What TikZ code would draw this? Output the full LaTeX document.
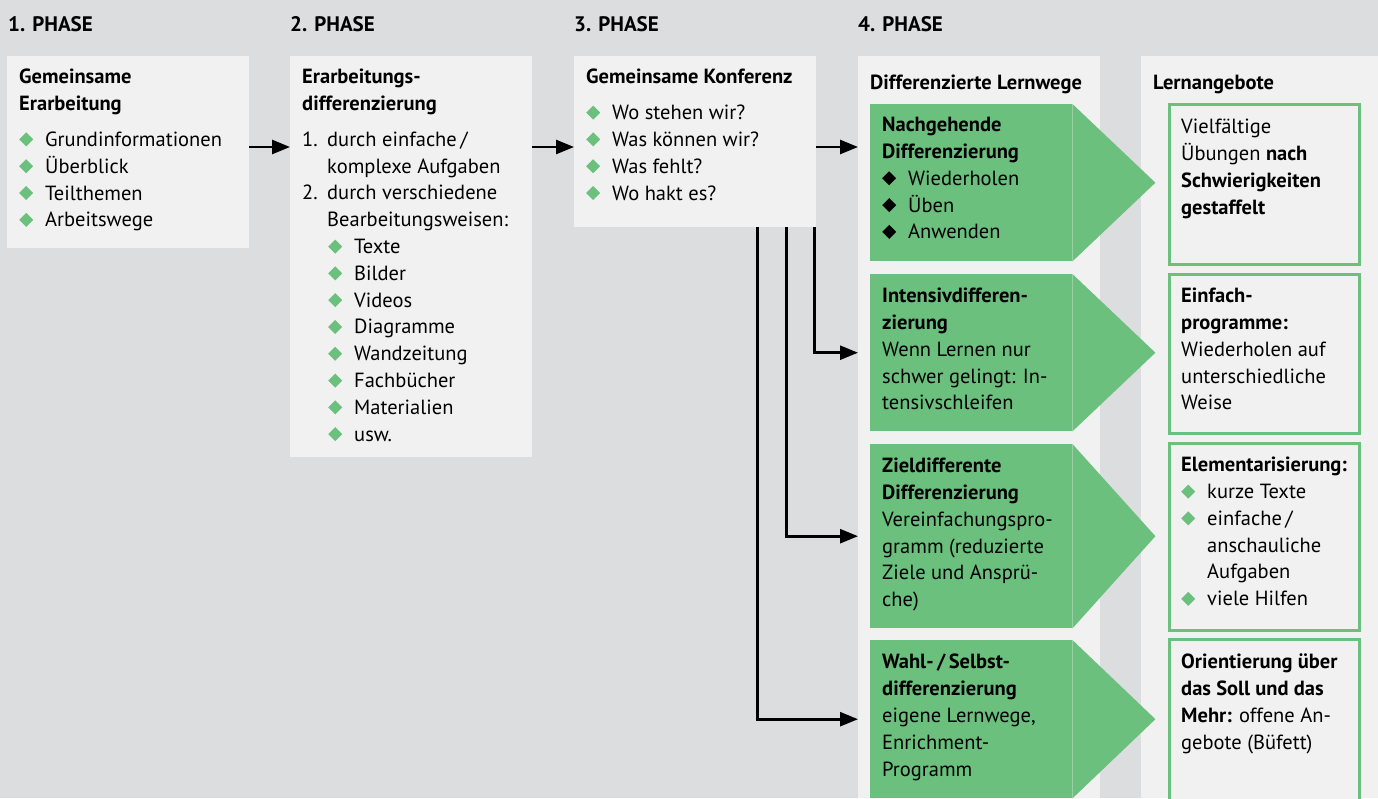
\documentclass[tikz,border=0pt]{standalone}
\usepackage{fontspec}
\setmainfont{PT Sans}
\usetikzlibrary{arrows.meta,positioning}

\definecolor{bggray}{RGB}{220,221,223}
\definecolor{boxgray}{RGB}{241,241,241}
\definecolor{lwgreen}{RGB}{106,192,124}

% bullets
\newcommand\gdia{\tikz[baseline=0pt,x=1pt,y=1pt]\fill[lwgreen] (0,7) -- (7,14) -- (14,7) -- (7,0) -- cycle;}
\newcommand\bdia{\tikz[baseline=0pt,x=1pt,y=1pt]\fill[black] (0,7) -- (7,14) -- (14,7) -- (7,0) -- cycle;}
\newcommand\gitem{\makebox[26pt][l]{\gdia}}
\newcommand\bitem{\makebox[26pt][l]{\bdia}}
\newcommand\numitem[1]{\makebox[25pt][l]{#1}}

\begin{document}
\begin{tikzpicture}[x=1pt,y=-1pt,
    phase/.style={anchor=base west,inner sep=0pt,font=\bfseries\fontsize{21}{26}\selectfont},
    panel/.style={fill=boxgray,inner sep=0pt,anchor=north west},
    lbody/.style={fill=lwgreen,inner sep=0pt,anchor=north west,minimum width=202pt},
    offer/.style={draw=lwgreen,line width=2.5pt,fill=boxgray,inner sep=0pt,anchor=north west,minimum width=190pt},
    txt/.style={anchor=north west,inner sep=0pt,align=left,font=\fontsize{20.5}{26.8}\selectfont,
                execute at begin node={\rule{0pt}{20pt}}},
    arr/.style={-{Triangle[length=18pt,width=14pt]},line width=2.6pt}]

  \useasboundingbox (0,0) rectangle (1378,798);
  \fill[bggray] (0,0) rectangle (1378,798);

  % phase titles
  \node[phase] (t1) at (8,31) {1. PHASE};
  \node[phase] (t2) at (290,31) {2. PHASE};
  \node[phase] (t3) at (574,31) {3. PHASE};
  \node[phase] (t4) at (858,31) {4. PHASE};

  % columns
  \node[panel,minimum width=242pt,minimum height=192pt] (ph1) at (7,56) {};
  \node[panel,minimum width=242pt,minimum height=401pt] (ph2) at (290,56) {};
  \node[panel,minimum width=242pt,minimum height=171pt] (ph3) at (574,56) {};
  \node[panel,minimum width=242pt,minimum height=742pt] (ph4) at (858,56) {};
  \node[panel,minimum width=237pt,minimum height=742pt] (ph5) at (1141,56) {};

  \node[txt] (x1) at ([shift={(12,13)}]ph1.north west)
    {\textbf{Gemeinsame}\\\textbf{Erarbeitung}\\[9pt]
     \gitem Grundinformationen\\\gitem Überblick\\\gitem Teilthemen\\\gitem Arbeitswege};
  \node[txt] (x2) at ([shift={(12,13)}]ph2.north west)
    {\textbf{Erarbeitungs-}\\\textbf{differenzierung}\\[9pt]
     \numitem{1.}durch einfache\,/\\\hspace*{25pt}komplexe Aufgaben\\
     \numitem{2.}durch verschiedene\\\hspace*{25pt}Bearbeitungsweisen:\\
     \hspace*{26pt}\gitem Texte\\\hspace*{26pt}\gitem Bilder\\\hspace*{26pt}\gitem Videos\\
     \hspace*{26pt}\gitem Diagramme\\\hspace*{26pt}\gitem Wandzeitung\\
     \hspace*{26pt}\gitem Fachbücher\\\hspace*{26pt}\gitem Materialien\\\hspace*{26pt}\gitem usw.};
  \node[txt] (x3) at ([shift={(12,13)}]ph3.north west)
    {\textbf{Gemeinsame Konferenz}\\[9pt]
     \gitem Wo stehen wir?\\\gitem Was können wir?\\\gitem Was fehlt?\\\gitem Wo hakt es?};
  \node[txt] (x4) at ([shift={(12,13)}]ph4.north west) {\textbf{Differenzierte Lernwege}};
  \node[txt] (x5) at ([shift={(12,13)}]ph5.north west) {\textbf{Lernangebote}};

  % learning paths
  \node[lbody,minimum height=157pt] (lw1) at (870,104) {};
  \node[lbody,minimum height=157pt] (lw2) at (870,274) {};
  \node[lbody,minimum height=184pt] (lw3) at (870,444) {};
  \node[lbody,minimum height=158pt] (lw4) at (870,640) {};
  \fill[lwgreen] (lw1.north east) -- ([xshift=83pt]lw1.east) -- (lw1.south east) -- cycle;
  \fill[lwgreen] (lw2.north east) -- ([xshift=83pt]lw2.east) -- (lw2.south east) -- cycle;
  \fill[lwgreen] (lw3.north east) -- ([xshift=83pt]lw3.east) -- (lw3.south east) -- cycle;
  \fill[lwgreen] (lw4.north east) -- ([xshift=83pt]lw4.east) -- (lw4.south east) -- cycle;

  \node[txt] (y1) at ([shift={(12,13)}]lw1.north west)
    {\textbf{Nachgehende}\\\textbf{Differenzierung}\\\bitem Wiederholen\\\bitem Üben\\\bitem Anwenden};
  \node[txt] (y2) at ([shift={(12,14)}]lw2.north west)
    {\textbf{Intensivdifferen-}\\\textbf{zierung}\\Wenn Lernen nur\\schwer gelingt: In-\\tensivschleifen};
  \node[txt] (y3) at ([shift={(12,14)}]lw3.north west)
    {\textbf{Zieldifferente}\\\textbf{Differenzierung}\\Vereinfachungspro-\\gramm (reduzierte\\Ziele und Ansprü-\\che)};
  \node[txt] (y4) at ([shift={(12,14)}]lw4.north west)
    {\textbf{Wahl-\,/\,Selbst-}\\\textbf{differenzierung}\\eigene Lernwege,\\Enrichment-\\Programm};

  % offers
  \node[offer,minimum height=160pt] (of1) at (1168,103) {};
  \node[offer,minimum height=159pt] (of2) at (1168,273) {};
  \node[offer,minimum height=187pt] (of3) at (1168,442) {};
  \node[offer,minimum height=164pt] (of4) at (1168,638) {};

  \node[txt] (z1) at ([shift={(13,16)}]of1.north west)
    {Vielfältige\\Übungen \textbf{nach}\\\textbf{Schwierigkeiten}\\\textbf{gestaffelt}};
  \node[txt] (z2) at ([shift={(13,15)}]of2.north west)
    {\textbf{Einfach-}\\\textbf{programme:}\\Wiederholen auf\\unterschiedliche\\Weise};
  \node[txt] (z3) at ([shift={(13,15)}]of3.north west)
    {\textbf{Elementarisierung:}\\\gitem kurze Texte\\\gitem einfache\,/\\\hspace*{26pt}anschauliche\\\hspace*{26pt}Aufgaben\\\gitem viele Hilfen};
  \node[txt] (z4) at ([shift={(13,16)}]of4.north west)
    {\textbf{Orientierung über}\\\textbf{das Soll und das}\\\textbf{Mehr:} offene An-\\gebote (Büfett)};

  % connectors
  \coordinate (lvl) at (0,147);
  \draw[arr] (ph1.east |- lvl) -- (ph2.west |- lvl);
  \draw[arr] (ph2.east |- lvl) -- (ph3.west |- lvl);
  \draw[arr] (ph3.east |- lvl) -- (ph4.west |- lvl);
  \draw[arr] ([xshift=-2pt]ph3.south east) |- (ph4.west |- lw2.west);
  \draw[arr] ([xshift=-30pt]ph3.south east) |- (ph4.west |- lw3.west);
  \draw[arr] ([xshift=-59pt]ph3.south east) |- (ph4.west |- lw4.west);
\end{tikzpicture}
\end{document}
